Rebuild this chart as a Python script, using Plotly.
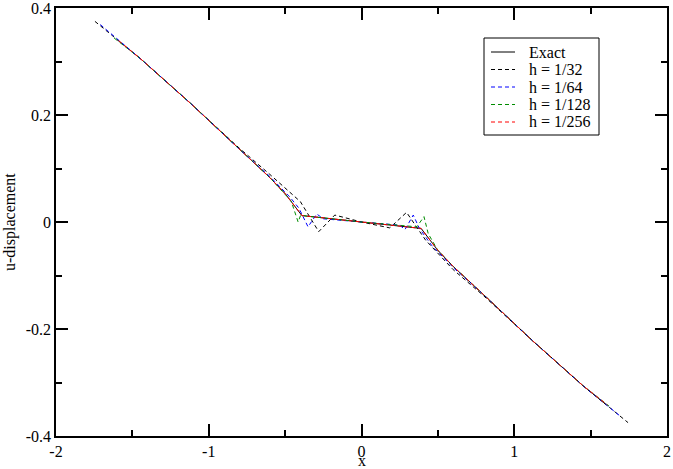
# plot.py
# u-displacement along x: exact solution vs. mesh refinements (Grace-style look).

import plotly.graph_objects as go

# ---------- data ----------
x_exact = [-1.60, -1.45, -1.12, -0.80, -0.60, -0.50, -0.39, 0.0,
           0.39, 0.50, 0.60, 0.80, 1.12, 1.45, 1.60]
u_exact = [0.341, 0.306, 0.222, 0.136, 0.083, 0.053, 0.012, 0.0,
           -0.012, -0.053, -0.083, -0.136, -0.222, -0.306, -0.341]

x_h32 = [-1.745, -1.45, -1.12, -0.80, -0.60, -0.40, -0.28, -0.175, 0.0,
         0.185, 0.295, 0.42, 0.60, 0.80, 1.12, 1.45, 1.745]
u_h32 = [0.375, 0.306, 0.222, 0.138, 0.089, 0.038, -0.018, 0.013, 0.0,
         -0.011, 0.018, -0.034, -0.089, -0.138, -0.222, -0.306, -0.375]

x_h64 = [-1.71, -1.45, -1.12, -0.80, -0.60, -0.47, -0.41, -0.35, -0.293, -0.25, 0.0,
         0.25, 0.285, 0.339, 0.379, 0.46, 0.60, 0.80, 1.12, 1.45, 1.69]
u_h64 = [0.369, 0.306, 0.222, 0.136, 0.085, 0.047, 0.026, -0.009, 0.015, 0.006, 0.0,
         -0.006, -0.014, 0.013, -0.012, -0.044, -0.085, -0.136, -0.222, -0.306, -0.362]

x_h128 = [-1.62, -1.45, -1.12, -0.80, -0.60, -0.46, -0.415, -0.398, -0.36, 0.0,
          0.362, 0.409, 0.437, 0.50, 0.60, 0.80, 1.12, 1.45, 1.62]
u_h128 = [0.344, 0.306, 0.222, 0.136, 0.083, 0.039, 0.000, 0.013, 0.011, 0.0,
          -0.009, 0.010, -0.022, -0.053, -0.083, -0.136, -0.222, -0.306, -0.344]

x_h256 = [-1.59, -1.45, -1.12, -0.80, -0.60, -0.50, -0.39, 0.0,
          0.39, 0.50, 0.60, 0.80, 1.12, 1.45, 1.61]
u_h256 = [0.339, 0.306, 0.222, 0.136, 0.083, 0.053, 0.012, 0.0,
          -0.012, -0.053, -0.083, -0.136, -0.222, -0.306, -0.342]

x_ticks = [-2, -1, 0, 1, 2]
x_ticktext = ["-2", "-1", "0", "1", "2"]
y_ticks = [-0.4, -0.2, 0, 0.2, 0.4]
y_ticktext = ["-0.4", "-0.2", "0", "0.2", "0.4"]

FONT = "Liberation Serif"
DASH = "4px,3px"

# plot area in page pixels (used for the hand-drawn legend box)
L, R, T, B = 56, 667, 8, 436


def px(x):
    return (x - L) / (R - L)


def py(y):
    return (B - y) / (B - T)


fig = go.Figure()

series = [
    (x_exact, u_exact, "Exact", "#000000", "solid"),
    (x_h32, u_h32, "h = 1/32", "#000000", DASH),
    (x_h64, u_h64, "h = 1/64", "#0000ff", DASH),
    (x_h128, u_h128, "h = 1/128", "#008c00", DASH),
    (x_h256, u_h256, "h = 1/256", "#ff0000", DASH),
]
for xs, ys, name, color, dash in series:
    fig.add_trace(go.Scatter(
        x=xs, y=ys, mode="lines", name=name, showlegend=False,
        line=dict(color=color, width=1, dash=dash)
    ))

# Legend, Grace style: framed box, short line samples
shapes = [dict(type="rect", xref="paper", yref="paper",
               x0=px(484), x1=px(599), y0=py(135), y1=py(38),
               line=dict(color="black", width=1), fillcolor="white", layer="above")]
annotations = []
for i, (_, _, name, color, dash) in enumerate(series):
    yy = 52 + i * 17.5
    shapes.append(dict(type="line", xref="paper", yref="paper",
                       x0=px(491), x1=px(515), y0=py(yy), y1=py(yy),
                       line=dict(color=color, width=1, dash=dash), layer="above"))
    annotations.append(dict(xref="paper", yref="paper", x=px(527), y=py(yy),
                            text=name, showarrow=False, xanchor="left", yanchor="middle",
                            font=dict(family=FONT, size=16, color="black")))

# axis titles
annotations.append(dict(xref="paper", yref="paper", x=0.5, y=py(460),
                        text="x", showarrow=False, xanchor="center", yanchor="middle",
                        borderpad=0,
                        font=dict(family=FONT, size=16, color="black")))
annotations.append(dict(xref="paper", yref="paper", x=px(10), y=0.5,
                        text="u-displacement", showarrow=False, textangle=-90,
                        xanchor="center", yanchor="middle",
                        font=dict(family=FONT, size=16, color="black")))

axis_common = dict(
    showgrid=False, zeroline=False, automargin=False,
    showline=True, linecolor="black", linewidth=1.5,
    mirror="ticks", ticks="inside", ticklen=12, tickwidth=1.5, tickcolor="black",
    ticklabeloverflow="allow",
    tickfont=dict(family=FONT, size=16, color="black"),
)

fig.update_xaxes(
    range=[-2, 2], tickvals=x_ticks, ticktext=x_ticktext,
    minor=dict(ticks="inside", ticklen=6, tickwidth=1.5, tickcolor="black", dtick=0.5),
    **axis_common
)
fig.update_yaxes(
    range=[-0.4, 0.4], tickvals=y_ticks, ticktext=y_ticktext,
    minor=dict(ticks="inside", ticklen=6, tickwidth=1.5, tickcolor="black", dtick=0.1),
    **axis_common
)

fig.update_layout(
    width=673, height=469,
    template="plotly_white",
    plot_bgcolor="white", paper_bgcolor="white",
    margin=dict(l=L, r=673 - R, t=T, b=469 - B),
    font=dict(family=FONT, size=16, color="black"),
    showlegend=False,
    shapes=shapes,
    annotations=annotations,
)

# drop the browser's default body margin so the figure sits at the page origin
fig.write_html("out.html", config={"displayModeBar": False},
               post_script="document.body.style.margin='0px';")
